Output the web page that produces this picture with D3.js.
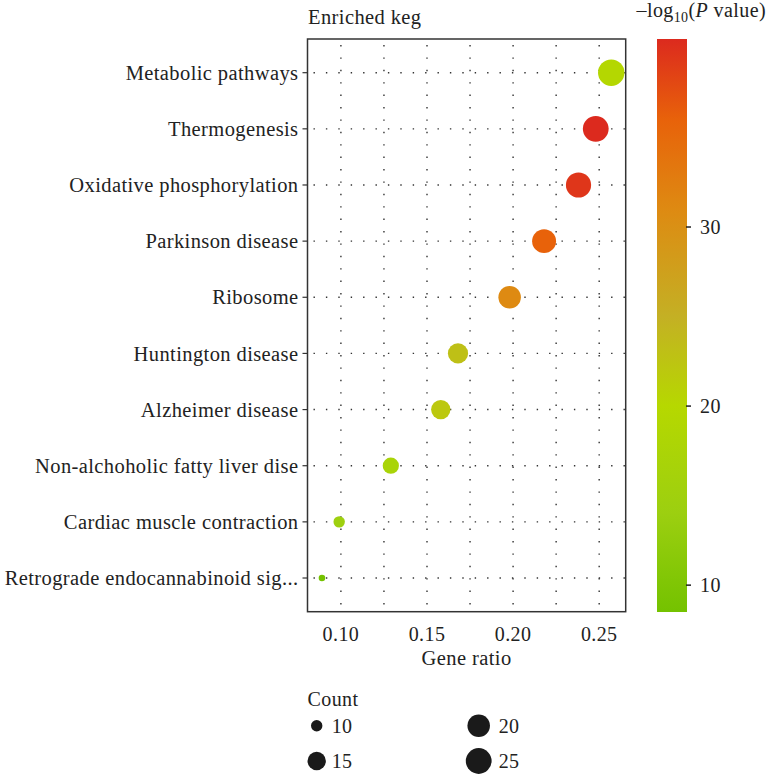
<!DOCTYPE html>
<html>
<head>
<meta charset="utf-8">
<script src="https://cdn.jsdelivr.net/npm/d3@7"></script>
<style>
  body { margin: 0; background: #fff; }
  text { font-family: "Liberation Serif", "Times New Roman", serif; fill: #222; letter-spacing: 0.4px; }
</style>
</head>
<body>
<svg id="chart" width="772" height="774"></svg>
<script>
const pathways = [
    "Metabolic pathways",
    "Thermogenesis",
    "Oxidative phosphorylation",
    "Parkinson disease",
    "Ribosome",
    "Huntington disease",
    "Alzheimer disease",
    "Non-alchoholic fatty liver dise",
    "Cardiac muscle contraction",
    "Retrograde endocannabinoid sig..."
];
const geneRatio = [0.257, 0.248, 0.238, 0.218, 0.198, 0.168, 0.158, 0.129, 0.099, 0.089];
const counts = [26, 25, 24, 22, 20, 17, 16, 13, 10, 9];
const logP = [19.5, 40.5, 39.5, 36, 31, 23, 22, 17, 14.5, 8.5];

const xTicks = [0.10, 0.15, 0.20, 0.25];
const xMinor = [0.125, 0.175, 0.225];
const colorTicks = [10, 20, 30];
const colorStops = [8.5, 14, 20, 25, 31, 36, 40.5];
const colorHex = ["#74c200", "#9ccf10", "#b6d800", "#c4b024", "#de8a12", "#e8620a", "#dc2a1e"];
const sizeTicks = [10, 15, 20, 25];

const svg = d3.select("#chart");
const panel = {left: 307.5, right: 625.7, top: 39, bottom: 611.7};

const pad = (d3.max(geneRatio) - d3.min(geneRatio)) * 0.05;
const x = d3.scaleLinear()
    .domain([d3.min(geneRatio) - pad, d3.max(geneRatio) + pad])
    .range([panel.left, panel.right]);
const y = d3.scalePoint().domain(pathways).range([panel.top, panel.bottom]).padding(0.6);
const color = d3.scaleLinear().domain(colorStops).range(colorHex).interpolate(d3.interpolateRgb);

// area-style size scale, like ggplot scale_size
const cMin = d3.min(counts), cMax = d3.max(counts);
const sizeT = d3.scaleSqrt().domain([0, cMax - cMin]).range([0, 1]);
const rOut = d3.scaleLinear().domain([0, 1]).range([3.3, 13.2]);
const radius = v => rOut(sizeT(v - cMin));

const data = pathways.map((p, i) => ({name: p, ratio: geneRatio[i], count: counts[i], lp: logP[i]}));

// grid
const grid = svg.append("g").attr("stroke", "#333").attr("stroke-width", 1.4).attr("stroke-dasharray", "1.4 11");
grid.selectAll(".vx").data(xTicks.concat(xMinor)).enter().append("line")
    .attr("x1", d => x(d)).attr("x2", d => x(d))
    .attr("y1", panel.top + 6).attr("y2", panel.bottom);
grid.selectAll(".hy").data(pathways).enter().append("line")
    .attr("x1", panel.left + 6).attr("x2", panel.right)
    .attr("y1", d => y(d)).attr("y2", d => y(d));

// panel border
svg.append("rect")
    .attr("x", panel.left).attr("y", panel.top)
    .attr("width", panel.right - panel.left).attr("height", panel.bottom - panel.top)
    .attr("fill", "none").attr("stroke", "#333").attr("stroke-width", 1.5);

// points
svg.append("g").selectAll("circle").data(data).enter().append("circle")
    .attr("cx", d => x(d.ratio))
    .attr("cy", d => y(d.name))
    .attr("r", d => radius(d.count))
    .attr("fill", d => color(d.lp));

// y axis
const yAxis = svg.append("g");
yAxis.selectAll("line").data(pathways).enter().append("line")
    .attr("x1", panel.left - 5).attr("x2", panel.left)
    .attr("y1", d => y(d)).attr("y2", d => y(d))
    .attr("stroke", "#333").attr("stroke-width", 1.2);
yAxis.selectAll("text").data(pathways).enter().append("text")
    .attr("x", panel.left - 9).attr("y", d => y(d)).attr("dy", "0.35em")
    .attr("text-anchor", "end").attr("font-size", 20.5)
    .text(d => d);

// x axis
svg.append("g").selectAll("text").data(xTicks).enter().append("text")
    .attr("x", d => x(d)).attr("y", 641)
    .attr("text-anchor", "middle").attr("font-size", 20)
    .text(d => d3.format(".2f")(d));
svg.append("text").attr("x", (panel.left + panel.right) / 2).attr("y", 665)
    .attr("text-anchor", "middle").attr("font-size", 20.5).text("Gene ratio");

// title
svg.append("text").attr("x", 308).attr("y", 24).attr("font-size", 20.5).text("Enriched keg");

// colour bar, spans the data range of -log10(P)
const bar = {x: 657, w: 30, top: 39, bottom: 612};
const cy = d3.scaleLinear().domain([colorStops[0], colorStops[colorStops.length - 1]]).range([bar.bottom, bar.top]);
const grad = svg.append("defs").append("linearGradient").attr("id", "cbar")
    .attr("x1", 0).attr("y1", 1).attr("x2", 0).attr("y2", 0);
grad.selectAll("stop").data(colorStops).enter().append("stop")
    .attr("offset", d => (d - colorStops[0]) / (colorStops[colorStops.length - 1] - colorStops[0]))
    .attr("stop-color", d => color(d));
svg.append("rect").attr("x", bar.x).attr("y", bar.top).attr("width", bar.w)
    .attr("height", bar.bottom - bar.top).attr("fill", "url(#cbar)");
const cAxis = svg.append("g");
cAxis.selectAll("line").data(colorTicks).enter().append("line")
    .attr("x1", bar.x + bar.w - 1).attr("x2", bar.x + bar.w + 4)
    .attr("y1", d => cy(d)).attr("y2", d => cy(d))
    .attr("stroke", "#222").attr("stroke-width", 1.5);
cAxis.selectAll("text").data(colorTicks).enter().append("text")
    .attr("x", 700).attr("y", d => cy(d)).attr("dy", "0.35em").attr("font-size", 20)
    .text(d => d);

const ct = svg.append("text").attr("x", 766).attr("y", 17).attr("text-anchor", "end")
    .attr("font-size", 20).attr("letter-spacing", 0.5);
ct.append("tspan").text("\u2013log");
ct.append("tspan").attr("font-size", 14).attr("dy", 5).text("10");
ct.append("tspan").attr("dy", -5).text("(");
ct.append("tspan").attr("font-style", "italic").text("P");
ct.append("tspan").text(" value)");

// size legend
svg.append("text").attr("x", 307.5).attr("y", 706).attr("font-size", 20).text("Count");
const sl = svg.append("g").selectAll("g").data(sizeTicks).enter().append("g")
    .attr("transform", (d, i) => `translate(${i < 2 ? 316.7 : 478.7},${i % 2 === 0 ? 725.7 : 761})`);
sl.append("circle").attr("r", d => radius(d)).attr("fill", "#1a1a1a");
sl.append("text").attr("x", (d, i) => i < 2 ? 15 : 20).attr("dy", "0.35em").attr("font-size", 20).text(d => d);
</script>
</body>
</html>
